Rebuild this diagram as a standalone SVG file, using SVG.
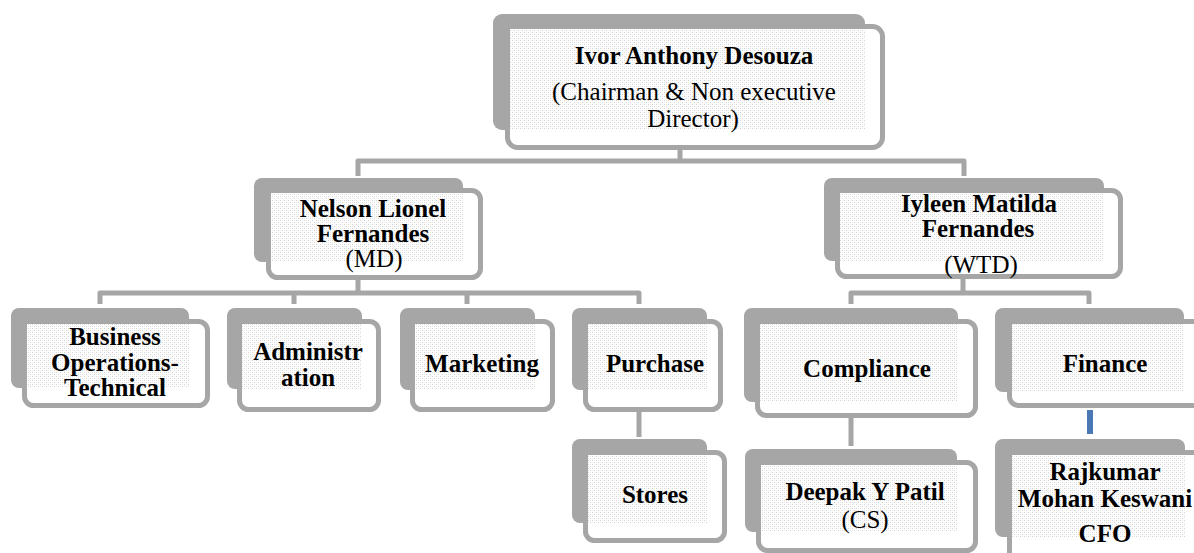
<svg xmlns="http://www.w3.org/2000/svg" width="1194" height="553" viewBox="0 0 1194 553">
<defs>
<pattern id="tx" width="4" height="4" patternUnits="userSpaceOnUse">
<rect width="4" height="4" fill="#ffffff"/>
<rect x="0" y="0" width="1" height="1" fill="#d4d4d4"/>
<rect x="2" y="2" width="1" height="1" fill="#d4d4d4"/>
<rect x="2" y="0" width="1" height="1" fill="#ececec"/>
<rect x="0" y="2" width="1" height="1" fill="#ececec"/>
</pattern>
</defs>
<style>
.sh{fill:#a6a6a6}
.fr{fill:#ffffff;stroke:#a6a6a6;stroke-width:5}
.tx{fill:url(#tx)}
.cn{fill:none;stroke:#a6a6a6;stroke-width:5;stroke-linejoin:round}
text{font-family:"Liberation Serif","Times New Roman",serif;font-size:25px;fill:#000;text-anchor:middle}
.b{font-weight:bold}
</style>
<rect width="1194" height="553" fill="#ffffff"/>
<g id="connectors">
<path class="cn" d="M680,150 V161 M358,176 V161 H964 V176"/>
<path class="cn" d="M358,280 V293 M100,304 V293 H639 V304 M294,293 V304 M467,293 V304"/>
<path class="cn" d="M963,279 V293 M851,304 V293 H1089 V304"/>
<path class="cn" d="M639,412 V437"/>
<path class="cn" d="M851,418 V446"/>
<path d="M1090,410 V434" fill="none" stroke="#4a78b4" stroke-width="6"/>
</g>
<g id="n-ivor">
<rect class="sh" x="493" y="14" width="372" height="116" rx="9"/>
<rect class="fr" x="507.5" y="26.5" width="375" height="121" rx="10"/>
<rect class="tx" x="510" y="29" width="355" height="101"/>
<text class="b" x="694" y="64">Ivor Anthony Desouza</text>
<text x="694" y="100">(Chairman &amp; Non executive</text>
<text x="693" y="127">Director)</text>
</g>
<g id="n-nelson">
<rect class="sh" x="254" y="178" width="209" height="84" rx="8"/>
<rect class="fr" x="268.5" y="190.5" width="212" height="87" rx="9"/>
<rect class="tx" x="271" y="193" width="192" height="69"/>
<text class="b" x="373" y="217">Nelson Lionel</text>
<text class="b" x="373" y="242">Fernandes</text>
<text x="374" y="267">(MD)</text>
</g>
<g id="n-iyleen">
<rect class="sh" x="824" y="178" width="280" height="83" rx="8"/>
<rect class="fr" x="837.5" y="190.5" width="283" height="86" rx="9"/>
<rect class="tx" x="840" y="193" width="264" height="68"/>
<text class="b" x="979" y="212">Iyleen Matilda</text>
<text class="b" x="978" y="237">Fernandes</text>
<text x="981" y="273">(WTD)</text>
</g>
<g id="n-business">
<rect class="sh" x="11" y="308" width="178" height="80" rx="8"/>
<rect class="fr" x="24.5" y="321.5" width="183" height="84" rx="9"/>
<rect class="tx" x="27" y="324" width="162" height="64"/>
<text class="b" x="115" y="345">Business</text>
<text class="b" x="115" y="371">Operations-</text>
<text class="b" x="115" y="396">Technical</text>
</g>
<g id="n-admin">
<rect class="sh" x="227" y="308" width="135" height="81" rx="8"/>
<rect class="fr" x="239.5" y="321.5" width="139" height="88" rx="9"/>
<rect class="tx" x="242" y="324" width="120" height="65"/>
<text class="b" x="308" y="360">Administr</text>
<text class="b" x="308" y="386">ation</text>
</g>
<g id="n-marketing">
<rect class="sh" x="400" y="308" width="135" height="82" rx="8"/>
<rect class="fr" x="412.5" y="321.5" width="140" height="88" rx="9"/>
<rect class="tx" x="415" y="324" width="120" height="66"/>
<text class="b" x="482" y="372">Marketing</text>
</g>
<g id="n-purchase">
<rect class="sh" x="572" y="308" width="135" height="82" rx="8"/>
<rect class="fr" x="585.5" y="321.5" width="135" height="88" rx="9"/>
<rect class="tx" x="588" y="324" width="119" height="66"/>
<text class="b" x="655" y="372">Purchase</text>
</g>
<g id="n-stores">
<rect class="sh" x="572" y="439" width="135" height="84" rx="8"/>
<rect class="fr" x="585.5" y="452.5" width="139" height="88" rx="9"/>
<rect class="tx" x="588" y="455" width="119" height="68"/>
<text class="b" x="655" y="503">Stores</text>
</g>
<g id="n-compliance">
<rect class="sh" x="744" y="308" width="214" height="94" rx="8"/>
<rect class="fr" x="757.5" y="321.5" width="218" height="94" rx="9"/>
<rect class="tx" x="760" y="324" width="198" height="78"/>
<text class="b" x="867" y="377">Compliance</text>
</g>
<g id="n-finance">
<rect class="sh" x="995" y="308" width="189" height="84" rx="8"/>
<rect class="fr" x="1009.5" y="321.5" width="200" height="84" rx="9"/>
<rect class="tx" x="1012" y="324" width="172" height="68"/>
<text class="b" x="1105" y="372">Finance</text>
</g>
<g id="n-deepak">
<rect class="sh" x="745" y="449" width="212" height="83" rx="8"/>
<rect class="fr" x="758.5" y="462.5" width="217" height="88" rx="9"/>
<rect class="tx" x="761" y="465" width="196" height="67"/>
<text class="b" x="865" y="500">Deepak Y Patil</text>
<text x="865" y="528">(CS)</text>
</g>
<g id="n-rajkumar">
<rect class="sh" x="995" y="439" width="190" height="98" rx="8"/>
<rect class="fr" x="1009.5" y="452.5" width="200" height="110" rx="9"/>
<rect class="tx" x="1012" y="455" width="173" height="82"/>
<text class="b" x="1105" y="480">Rajkumar</text>
<text class="b" x="1105" y="507">Mohan Keswani</text>
<text class="b" x="1105" y="542">CFO</text>
</g>
</svg>
